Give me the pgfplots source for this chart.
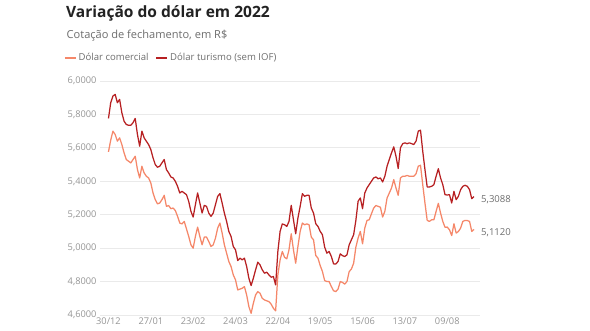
\documentclass[border=0pt]{standalone}
\usepackage{pgfplots}
\pgfplotsset{compat=1.18}
\usepackage{pgfplotstable}
\usepackage{fontspec}
\setmainfont{Open Sans}
\definecolor{comlight}{RGB}{245,135,105}
\definecolor{turdark}{RGB}{183,32,34}
\definecolor{gridc}{RGB}{234,234,234}
\definecolor{tickc}{RGB}{150,150,150}
\definecolor{titc}{RGB}{34,34,34}
\definecolor{subc}{RGB}{110,110,110}

\pgfplotstableread{
i com tur
0 5.576 5.776
1 5.646 5.870
2 5.700 5.910
3 5.680 5.920
4 5.640 5.870
5 5.660 5.890
6 5.620 5.810
7 5.570 5.760
8 5.530 5.740
9 5.520 5.735
10 5.510 5.735
11 5.530 5.750
12 5.550 5.776
13 5.470 5.680
14 5.420 5.610
15 5.490 5.700
16 5.450 5.660
17 5.430 5.640
18 5.420 5.620
19 5.390 5.590
20 5.330 5.540
21 5.290 5.500
22 5.265 5.484
23 5.270 5.490
24 5.290 5.510
25 5.316 5.530
26 5.250 5.470
27 5.255 5.450
28 5.236 5.426
29 5.240 5.420
30 5.225 5.400
31 5.190 5.370
32 5.150 5.330
33 5.145 5.340
34 5.160 5.330
35 5.115 5.320
36 5.070 5.280
37 5.020 5.220
38 5.000 5.186
39 5.070 5.260
40 5.126 5.330
41 5.070 5.270
42 5.020 5.210
43 5.066 5.256
44 5.066 5.250
45 5.040 5.210
46 5.010 5.190
47 5.020 5.210
48 5.060 5.260
49 5.120 5.310
50 5.150 5.326
51 5.090 5.270
52 5.020 5.210
53 4.970 5.160
54 4.920 5.100
55 4.890 5.070
56 4.840 5.010
57 4.810 4.990
58 4.750 4.926
59 4.755 4.940
60 4.760 4.930
61 4.770 4.940
62 4.720 4.890
63 4.650 4.820
64 4.610 4.776
65 4.670 4.820
66 4.720 4.870
67 4.740 4.916
68 4.730 4.900
69 4.700 4.870
70 4.690 4.850
71 4.685 4.856
72 4.680 4.840
73 4.665 4.826
74 4.640 4.830
75 4.625 4.780
76 4.840 4.980
77 4.930 5.100
78 4.980 5.145
79 4.945 5.140
80 4.936 5.130
81 4.990 5.160
82 5.086 5.256
83 4.990 5.170
84 4.910 5.086
85 5.010 5.180
86 5.100 5.250
87 5.150 5.326
88 5.140 5.310
89 5.145 5.316
90 5.140 5.316
91 5.066 5.240
92 5.050 5.210
93 4.956 5.146
94 4.940 5.130
95 4.896 5.100
96 4.860 5.080
97 4.806 5.006
98 4.800 4.970
99 4.800 4.980
100 4.770 4.950
101 4.745 4.906
102 4.740 4.905
103 4.755 4.920
104 4.800 4.966
105 4.795 4.955
106 4.785 4.950
107 4.800 4.960
108 4.860 5.020
109 4.875 5.050
110 4.910 5.080
111 5.006 5.166
112 5.060 5.280
113 5.100 5.300
114 5.026 5.236
115 5.120 5.330
116 5.166 5.360
117 5.170 5.380
118 5.206 5.400
119 5.240 5.420
120 5.255 5.426
121 5.250 5.415
122 5.245 5.420
123 5.186 5.396
124 5.220 5.430
125 5.300 5.490
126 5.330 5.530
127 5.360 5.570
128 5.410 5.606
129 5.360 5.550
130 5.316 5.476
131 5.420 5.600
132 5.430 5.625
133 5.430 5.630
134 5.435 5.625
135 5.430 5.630
136 5.430 5.625
137 5.430 5.620
138 5.445 5.640
139 5.490 5.700
140 5.496 5.706
141 5.380 5.580
142 5.270 5.470
143 5.166 5.366
144 5.160 5.366
145 5.170 5.370
146 5.170 5.380
147 5.220 5.430
148 5.268 5.475
149 5.210 5.420
150 5.160 5.380
151 5.125 5.320
152 5.126 5.318
153 5.110 5.320
154 5.075 5.270
155 5.146 5.340
156 5.090 5.290
157 5.100 5.310
158 5.120 5.350
159 5.160 5.370
160 5.166 5.376
161 5.165 5.370
162 5.160 5.350
163 5.100 5.296
164 5.112 5.3088
}\dolar

\begin{document}
\begin{tikzpicture}[x=1bp,y=1bp]
\path[use as bounding box, fill=white] (0,0) rectangle (590,330);
\node[anchor=base west, inner sep=0, text=titc] at (66,312.5)
  {\bfseries\fontsize{15.6}{17}\selectfont Variação do dólar em 2022};
\node[anchor=base west, inner sep=0, text=subc] at (66.5,292)
  {\fontsize{11.1}{13}\selectfont Cotação de fechamento, em R\$};
\begin{axis}[
  at={(100bp,15bp)}, anchor=south west,
  width=380bp, height=234bp, scale only axis,
  xmin=-3.8, xmax=166.7, ymin=4.6, ymax=6.0,
  axis line style={draw=none},
  major tick length=0pt,
  ymajorgrids, grid style={gridc, line width=0.8pt},
  ytick={4.6,4.8,5.0,5.2,5.4,5.6,5.8,6.0},
  xtick={0,19,38,57,76,95,114,133,152},
  xticklabels={30/12,27/01,23/02,24/03,22/04,19/05,15/06,13/07,09/08},
  /pgf/number format/.cd, fixed, fixed zerofill, precision=4, use comma, 1000 sep={}, assume math mode=true,
  /pgfplots/.cd,
  tick label style={font=\fontsize{9.3}{10}\selectfont, text=tickc},
  xticklabel style={yshift=1pt},
  clip=false,
  legend columns=2,
  legend style={at={(-0.095,1.098)}, anchor=west, draw=none, fill=none,
    font=\fontsize{9.6}{10}\selectfont, text=subc, inner sep=0pt,
    /tikz/every even column/.append style={column sep=5bp}},
  legend image code/.code={\draw[#1, line width=1.6pt] (0bp,0bp) -- (11bp,0bp);},
]
\addplot[comlight, line width=1.25pt, line join=round] table[x=i, y=com] {\dolar};
\addlegendentry{Dólar comercial}
\addplot[turdark, line width=1.25pt, line join=round] table[x=i, y=tur] {\dolar};
\addlegendentry{Dólar turismo (sem IOF)}
\node[anchor=west, text=subc, font=\fontsize{9.6}{10}\selectfont, inner sep=0pt] at (axis cs:164,5.3088) [xshift=7bp, yshift=-3bp] {5,3088};
\node[anchor=west, text=subc, font=\fontsize{9.6}{10}\selectfont, inner sep=0pt] at (axis cs:164,5.1120) [xshift=7bp, yshift=-3.5bp] {5,1120};
\end{axis}
\end{tikzpicture}
\end{document}
